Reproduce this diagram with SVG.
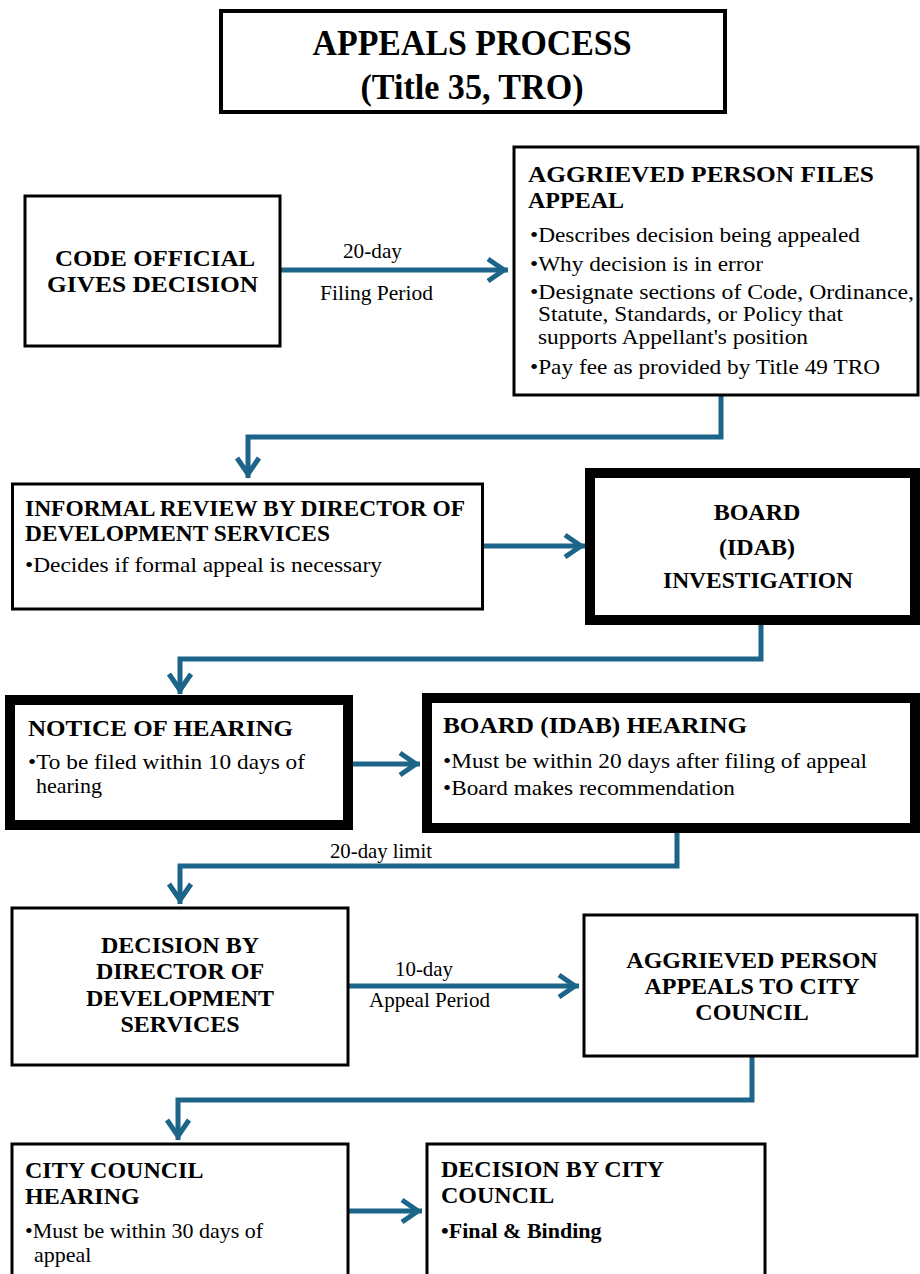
<svg xmlns="http://www.w3.org/2000/svg" width="920" height="1274" viewBox="0 0 920 1274">
<style>
.box{fill:#fff;stroke:#000;stroke-width:3}
.thick{fill:#fff;stroke:#000;stroke-width:10}
.conn{fill:none;stroke:#1d6489;stroke-width:5}
text{font-family:"Liberation Serif","Times New Roman",serif;fill:#000}
.h{font-weight:bold;font-size:24px}
.b{font-size:22px}
.w{font-size:21px}
.lbl{font-size:21px}
.t{font-weight:bold;font-size:36px}
.m{text-anchor:middle}
</style>
<defs>
<marker id="chev" markerUnits="userSpaceOnUse" viewBox="-22 -14 28 28" refX="4" refY="0" markerWidth="28" markerHeight="28" orient="auto" overflow="visible">
<path d="M-16,-11 L0,0 L-16,11" fill="none" stroke="#1d6489" stroke-width="5"/>
</marker>
</defs>
<rect width="920" height="1274" fill="#fff"/>

<g id="connectors">
<line class="conn" x1="281" y1="270" x2="508" y2="270" marker-end="url(#chev)"/>
<polyline class="conn" points="721,396 721,437 248,437 248,478" marker-end="url(#chev)"/>
<line class="conn" x1="484" y1="546" x2="585" y2="546" marker-end="url(#chev)"/>
<polyline class="conn" points="761,624 761,659 180,659 180,694" marker-end="url(#chev)"/>
<line class="conn" x1="353" y1="764" x2="420" y2="764" marker-end="url(#chev)"/>
<polyline class="conn" points="677,833 677,866 180,866 180,904" marker-end="url(#chev)"/>
<line class="conn" x1="349" y1="986" x2="579" y2="986" marker-end="url(#chev)"/>
<polyline class="conn" points="752,1056 752,1100 178,1100 178,1140" marker-end="url(#chev)"/>
<line class="conn" x1="349" y1="1211" x2="422" y2="1211" marker-end="url(#chev)"/>
<text class="lbl" x="343" y="258" textLength="59" lengthAdjust="spacingAndGlyphs">20-day</text>
<text class="lbl" x="320" y="300" textLength="113" lengthAdjust="spacingAndGlyphs">Filing Period</text>
<text class="lbl" x="330" y="858" textLength="102" lengthAdjust="spacingAndGlyphs">20-day limit</text>
<text class="lbl" x="395" y="976" textLength="58" lengthAdjust="spacingAndGlyphs">10-day</text>
<text class="lbl" x="369" y="1007" textLength="121" lengthAdjust="spacingAndGlyphs">Appeal Period</text>
</g>

<g id="title">
<rect x="221" y="11" width="504" height="101" fill="#fff" stroke="#000" stroke-width="4"/>
<text class="t m" x="472" y="55" textLength="319" lengthAdjust="spacingAndGlyphs">APPEALS PROCESS</text>
<text class="t m" x="472" y="99" textLength="223" lengthAdjust="spacingAndGlyphs">(Title 35, TRO)</text>
</g>

<g id="code-official">
<rect class="box" x="25" y="196" width="255" height="150"/>
<text class="h m" x="155" y="266" textLength="200" lengthAdjust="spacingAndGlyphs">CODE OFFICIAL</text>
<text class="h m" x="152.5" y="292" textLength="211" lengthAdjust="spacingAndGlyphs">GIVES DECISION</text>
</g>

<g id="files-appeal">
<rect class="box" x="514" y="147" width="404" height="248"/>
<text class="h" x="528" y="182" textLength="346" lengthAdjust="spacingAndGlyphs">AGGRIEVED PERSON FILES</text>
<text class="h" x="528" y="208">APPEAL</text>
<text class="b" x="530" y="242" textLength="330" lengthAdjust="spacingAndGlyphs">•Describes decision being appealed</text>
<text class="b" x="530" y="271" textLength="233" lengthAdjust="spacingAndGlyphs">•Why decision is in error</text>
<text class="w" x="530" y="299" textLength="384" lengthAdjust="spacingAndGlyphs">•Designate sections of Code, Ordinance,</text>
<text class="w" x="538" y="321" textLength="305" lengthAdjust="spacingAndGlyphs">Statute, Standards, or Policy that</text>
<text class="w" x="538" y="344" textLength="270" lengthAdjust="spacingAndGlyphs">supports Appellant's position</text>
<text class="b" x="530" y="374" textLength="350" lengthAdjust="spacingAndGlyphs">•Pay fee as provided by Title 49 TRO</text>
</g>

<g id="informal-review">
<rect class="box" x="12.5" y="484" width="470" height="125" stroke-width="4"/>
<text class="h" x="25" y="516" textLength="440" lengthAdjust="spacingAndGlyphs">INFORMAL REVIEW BY DIRECTOR OF</text>
<text class="h" x="25" y="541" textLength="305" lengthAdjust="spacingAndGlyphs">DEVELOPMENT SERVICES</text>
<text class="b" x="25" y="572" textLength="357" lengthAdjust="spacingAndGlyphs">•Decides if formal appeal is necessary</text>
</g>

<g id="board-investigation">
<rect class="thick" x="590" y="473" width="325" height="147"/>
<text class="h m" x="757" y="520">BOARD</text>
<text class="h m" x="757" y="555">(IDAB)</text>
<text class="h m" x="758" y="588" textLength="190" lengthAdjust="spacingAndGlyphs">INVESTIGATION</text>
</g>

<g id="notice-of-hearing">
<rect class="thick" x="10" y="700" width="338" height="125"/>
<text class="h" x="28" y="736" textLength="265" lengthAdjust="spacingAndGlyphs">NOTICE OF HEARING</text>
<text class="b" x="28" y="769" textLength="277" lengthAdjust="spacingAndGlyphs">•To be filed within 10 days of</text>
<text class="b" x="36" y="793">hearing</text>
</g>

<g id="board-hearing">
<rect class="thick" x="427" y="698" width="488" height="130"/>
<text class="h" x="443" y="733" textLength="304" lengthAdjust="spacingAndGlyphs">BOARD (IDAB) HEARING</text>
<text class="b" x="443" y="768" textLength="424" lengthAdjust="spacingAndGlyphs">•Must be within 20 days after filing of appeal</text>
<text class="b" x="443" y="795" textLength="292" lengthAdjust="spacingAndGlyphs">•Board makes recommendation</text>
</g>

<g id="director-decision">
<rect class="box" x="12" y="908" width="336" height="157"/>
<text class="h m" x="180" y="953">DECISION BY</text>
<text class="h m" x="180" y="979">DIRECTOR OF</text>
<text class="h m" x="180" y="1006">DEVELOPMENT</text>
<text class="h m" x="180" y="1032">SERVICES</text>
</g>

<g id="appeals-to-council">
<rect class="box" x="584" y="915" width="333" height="141"/>
<text class="h m" x="752" y="968">AGGRIEVED PERSON</text>
<text class="h m" x="752" y="994">APPEALS TO CITY</text>
<text class="h m" x="752" y="1020">COUNCIL</text>
</g>

<g id="council-hearing">
<rect class="box" x="12" y="1144" width="336" height="140"/>
<text class="h" x="25" y="1178">CITY COUNCIL</text>
<text class="h" x="25" y="1204">HEARING</text>
<text class="b" x="25" y="1238">•Must be within 30 days of</text>
<text class="b" x="34" y="1262">appeal</text>
</g>

<g id="council-decision">
<rect class="box" x="427" y="1144" width="338" height="140"/>
<text class="h" x="441" y="1177">DECISION BY CITY</text>
<text class="h" x="441" y="1203">COUNCIL</text>
<text class="b" x="441" y="1238" font-weight="bold">•Final &amp; Binding</text>
</g>
</svg>
